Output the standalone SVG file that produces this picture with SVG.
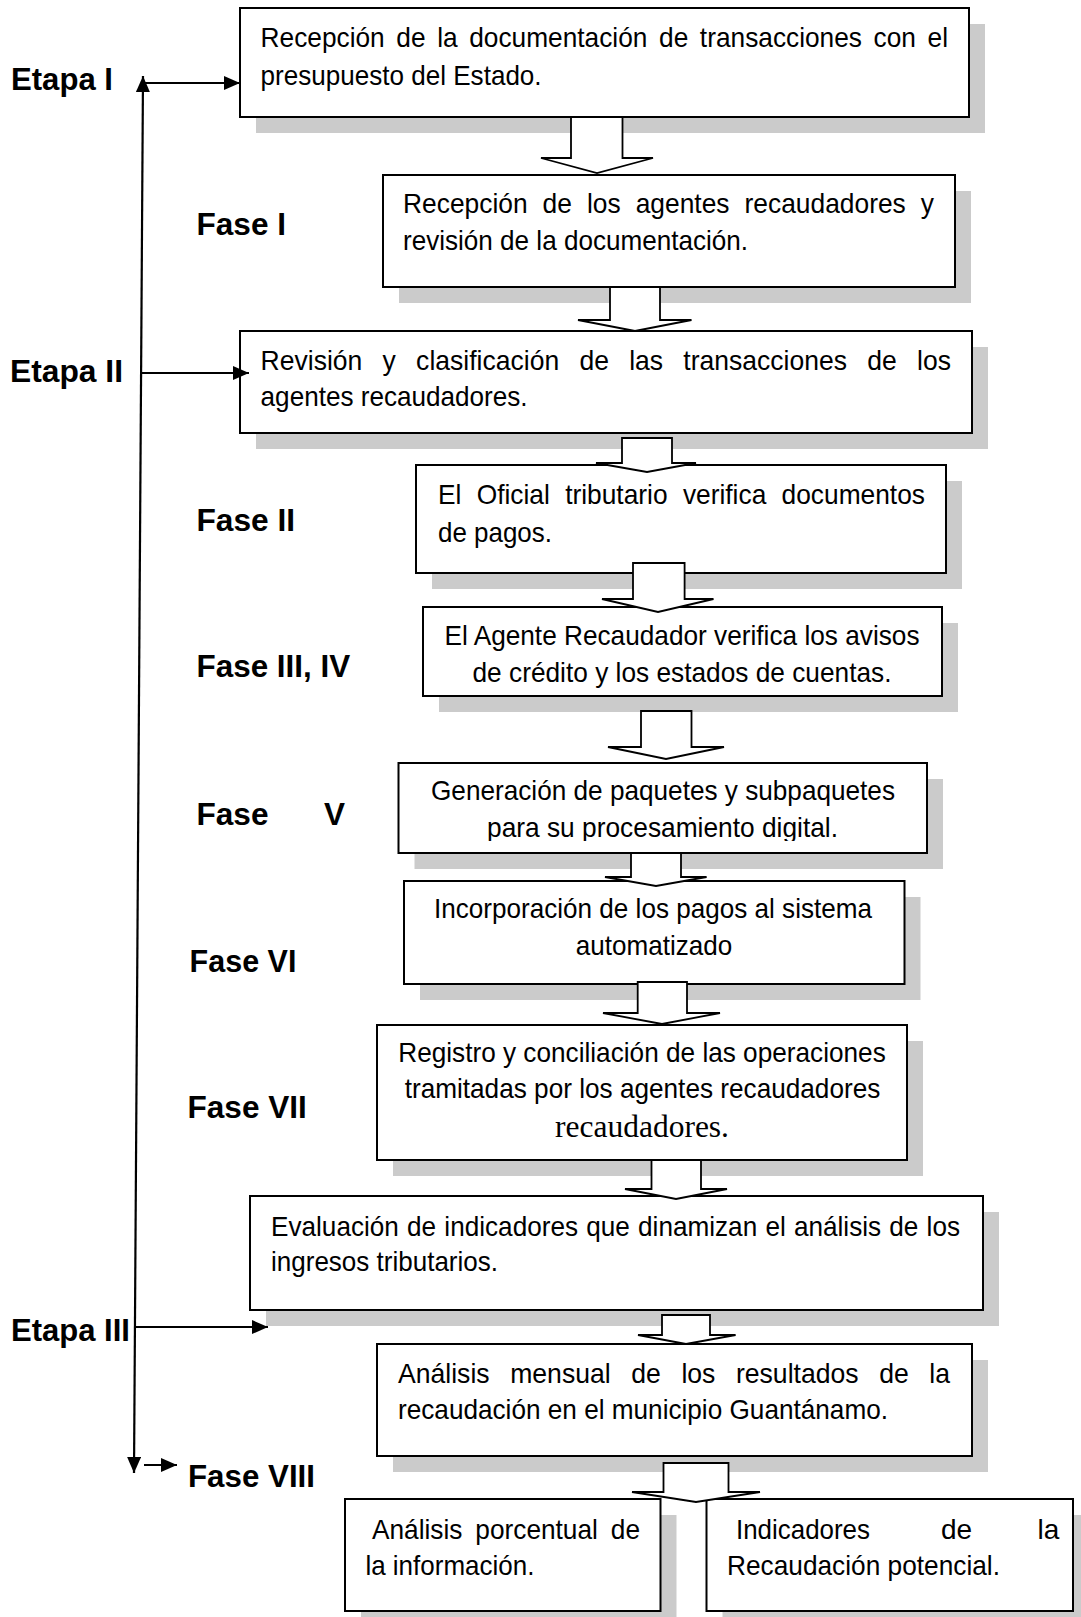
<svg xmlns="http://www.w3.org/2000/svg" width="1081" height="1617" viewBox="0 0 1081 1617">
<style>
.bg{fill:#ffffff}
.sh{fill:#cbcbcb}
.bx{fill:#ffffff;stroke:#000;stroke-width:2}
.ba{fill:#ffffff;stroke:#000;stroke-width:1.8;stroke-linejoin:miter}
.ln{stroke:#000;stroke-width:2.2;fill:none}
.t{font-family:"Liberation Sans",Arial,sans-serif;font-size:28px;fill:#000}
.c{text-anchor:middle}
.s{font-family:"Liberation Serif","Times New Roman",serif;font-size:31.5px;fill:#000}
.lbl{font-family:"Liberation Sans",Arial,sans-serif;font-size:31.5px;font-weight:bold;fill:#000}
</style>
<defs>
<marker id="ah" markerUnits="userSpaceOnUse" markerWidth="16" markerHeight="14" refX="16" refY="7" orient="auto-start-reverse">
<path d="M0,0 L16,7 L0,14 z" fill="#000"/>
</marker>
<clipPath id="clip6"><rect x="398" y="763" width="530" height="78"/></clipPath>
</defs>
<rect class="bg" x="0" y="0" width="1081" height="1617"/>

<g id="labels">
<text class="lbl" x="11" y="90" textLength="102" lengthAdjust="spacingAndGlyphs">Etapa I</text>
<text class="lbl" x="196.5" y="235" textLength="89.5" lengthAdjust="spacingAndGlyphs">Fase I</text>
<text class="lbl" x="10" y="382" textLength="113" lengthAdjust="spacingAndGlyphs">Etapa II</text>
<text class="lbl" x="196.5" y="531" textLength="98.6" lengthAdjust="spacingAndGlyphs">Fase II</text>
<text class="lbl" x="196.5" y="677" textLength="153.7" lengthAdjust="spacingAndGlyphs">Fase III, IV</text>
<text class="lbl" x="196.5" y="825"><tspan textLength="72" lengthAdjust="spacingAndGlyphs">Fase</tspan> <tspan x="324">V</tspan></text>
<text class="lbl" x="189.6" y="972" textLength="106.8" lengthAdjust="spacingAndGlyphs">Fase VI</text>
<text class="lbl" x="187.5" y="1118" textLength="119.3" lengthAdjust="spacingAndGlyphs">Fase VII</text>
<text class="lbl" x="11" y="1341" textLength="119" lengthAdjust="spacingAndGlyphs">Etapa III</text>
<text class="lbl" x="188" y="1487" textLength="127" lengthAdjust="spacingAndGlyphs">Fase VIII</text>
</g>

<g id="node1">
<rect class="sh" x="256" y="24" width="729" height="109"/>
<rect class="bx" x="240" y="8" width="729" height="109"/>
<text class="t" x="260.6" y="47" textLength="687.4" lengthAdjust="spacingAndGlyphs" word-spacing="4.6">Recepción de la documentación de transacciones con el</text>
<text class="t" x="260.6" y="85" textLength="281" lengthAdjust="spacingAndGlyphs">presupuesto del Estado.</text>
</g>

<g id="node2">
<rect class="sh" x="399" y="191" width="572" height="112"/>
<rect class="bx" x="383" y="175" width="572" height="112"/>
<text class="t" x="403" y="213" textLength="531" lengthAdjust="spacingAndGlyphs" word-spacing="8.2">Recepción de los agentes recaudadores y</text>
<text class="t" x="403" y="250" textLength="345" lengthAdjust="spacingAndGlyphs">revisión de la documentación.</text>
</g>

<g id="node3">
<rect class="sh" x="256" y="347" width="732" height="102"/>
<rect class="bx" x="240" y="331" width="732" height="102"/>
<text class="t" x="260.6" y="370" textLength="690.4" lengthAdjust="spacingAndGlyphs" word-spacing="13.6">Revisión y clasificación de las transacciones de los</text>
<text class="t" x="260.6" y="406" textLength="267" lengthAdjust="spacingAndGlyphs">agentes recaudadores.</text>
</g>

<g id="node4">
<rect class="sh" x="432" y="481" width="530" height="108"/>
<rect class="bx" x="416" y="465" width="530" height="108"/>
<text class="t" x="438" y="504" textLength="487" lengthAdjust="spacingAndGlyphs" word-spacing="8.5">El Oficial tributario verifica documentos</text>
<text class="t" x="438" y="542" textLength="114" lengthAdjust="spacingAndGlyphs">de pagos.</text>
</g>

<g id="node5">
<rect class="sh" x="439" y="623" width="519" height="89"/>
<rect class="bx" x="423" y="607" width="519" height="89"/>
<text class="t c" x="682" y="645" textLength="475" lengthAdjust="spacingAndGlyphs">El Agente Recaudador verifica los avisos</text>
<text class="t c" x="682" y="682" textLength="419" lengthAdjust="spacingAndGlyphs">de crédito y los estados de cuentas.</text>
</g>

<g id="node6">
<rect class="sh" x="414.5" y="779" width="528.5" height="90"/>
<rect class="bx" x="398.5" y="763" width="528.5" height="90"/>
<text class="t c" x="663" y="800" textLength="464" lengthAdjust="spacingAndGlyphs">Generación de paquetes y subpaquetes</text>
<text class="t c" x="662.5" y="837" textLength="351" lengthAdjust="spacingAndGlyphs" clip-path="url(#clip6)">para su procesamiento digital.</text>
</g>

<g id="node7">
<rect class="sh" x="420" y="897" width="500.5" height="103"/>
<rect class="bx" x="404" y="881" width="500.5" height="103"/>
<text class="t c" x="653" y="918" textLength="438" lengthAdjust="spacingAndGlyphs">Incorporación de los pagos al sistema</text>
<text class="t c" x="654" y="955" textLength="156.5" lengthAdjust="spacingAndGlyphs">automatizado</text>
</g>

<g id="node8">
<rect class="sh" x="393" y="1041" width="530" height="135"/>
<rect class="bx" x="377" y="1025" width="530" height="135"/>
<text class="t c" x="642" y="1062" textLength="487.5" lengthAdjust="spacingAndGlyphs">Registro y conciliación de las operaciones</text>
<text class="t c" x="642.5" y="1098" textLength="475.7" lengthAdjust="spacingAndGlyphs">tramitadas por los agentes recaudadores</text>
<text class="s c" x="642" y="1137" textLength="174" lengthAdjust="spacingAndGlyphs">recaudadores.</text>
</g>

<g id="node9">
<rect class="sh" x="266" y="1212" width="733" height="114"/>
<rect class="bx" x="250" y="1196" width="733" height="114"/>
<text class="t" x="271" y="1236" textLength="689" lengthAdjust="spacingAndGlyphs" word-spacing="1">Evaluación de indicadores que dinamizan el análisis de los</text>
<text class="t" x="271" y="1271" textLength="227" lengthAdjust="spacingAndGlyphs">ingresos tributarios.</text>
</g>

<g id="node10">
<rect class="sh" x="393" y="1360" width="595" height="112"/>
<rect class="bx" x="377" y="1344" width="595" height="112"/>
<text class="t" x="398" y="1383" textLength="552" lengthAdjust="spacingAndGlyphs" word-spacing="13.9">Análisis mensual de los resultados de la</text>
<text class="t" x="398" y="1419" textLength="490" lengthAdjust="spacingAndGlyphs">recaudación en el municipio Guantánamo.</text>
</g>

<g id="node11">
<rect class="sh" x="361" y="1515" width="315.5" height="112"/>
<rect class="bx" x="345" y="1499" width="315.5" height="112"/>
<text class="t" x="372" y="1539" textLength="268" lengthAdjust="spacingAndGlyphs" word-spacing="6">Análisis porcentual de</text>
<text class="t" x="365.4" y="1575" textLength="169" lengthAdjust="spacingAndGlyphs">la información.</text>
</g>

<g id="node12">
<rect class="sh" x="722.5" y="1515" width="366.5" height="112"/>
<rect class="bx" x="706.5" y="1499" width="366.5" height="112"/>
<text class="t" y="1539"><tspan x="736" textLength="134" lengthAdjust="spacingAndGlyphs">Indicadores</tspan> <tspan x="941">de</tspan> <tspan x="1037.6">la</tspan></text>
<text class="t" x="727" y="1575" textLength="273" lengthAdjust="spacingAndGlyphs">Recaudación potencial.</text>
</g>

<g id="connectors">
<line class="ln" x1="143" y1="76" x2="134" y2="1473" marker-start="url(#ah)" marker-end="url(#ah)"/>
<line class="ln" x1="144" y1="83" x2="240" y2="83" marker-end="url(#ah)"/>
<line class="ln" x1="141" y1="373" x2="249" y2="373" marker-end="url(#ah)"/>
<line class="ln" x1="136" y1="1327" x2="268" y2="1327" marker-end="url(#ah)"/>
<line class="ln" x1="144" y1="1465" x2="177" y2="1465" marker-end="url(#ah)"/>
<polygon class="ba" points="571,117 622.5,117 622.5,158 653,158 597,173 541,158 571,158"/>
<polygon class="ba" points="610,287 660,287 660,320 691.5,320 635,331 578,320 610,320"/>
<polygon class="ba" points="622,438 672,438 672,463 696,463 647,472 596,463 622,463"/>
<polygon class="ba" points="633,563 684.6,563 684.6,599 713.5,599 658,612 602,599 633,599"/>
<polygon class="ba" points="641,711 691.5,711 691.5,747 724,747 666,759 608,747 641,747"/>
<polygon class="ba" points="631,853 681,853 681,877 706.6,877 656,886 605,877 631,877"/>
<polygon class="ba" points="637.7,982 687,982 687,1013 720,1013 662,1024 603,1013 637.7,1013"/>
<polygon class="ba" points="651.5,1160 701,1160 701,1189 727,1189 676,1199 625,1189 651.5,1189"/>
<polygon class="ba" points="662,1315 710,1315 710,1335 735.6,1335 686,1344 638,1335 662,1335"/>
<polygon class="ba" points="663.5,1463 728.5,1463 728.5,1492 760,1492 696,1502 632,1492 663.5,1492"/>
</g>
</svg>
